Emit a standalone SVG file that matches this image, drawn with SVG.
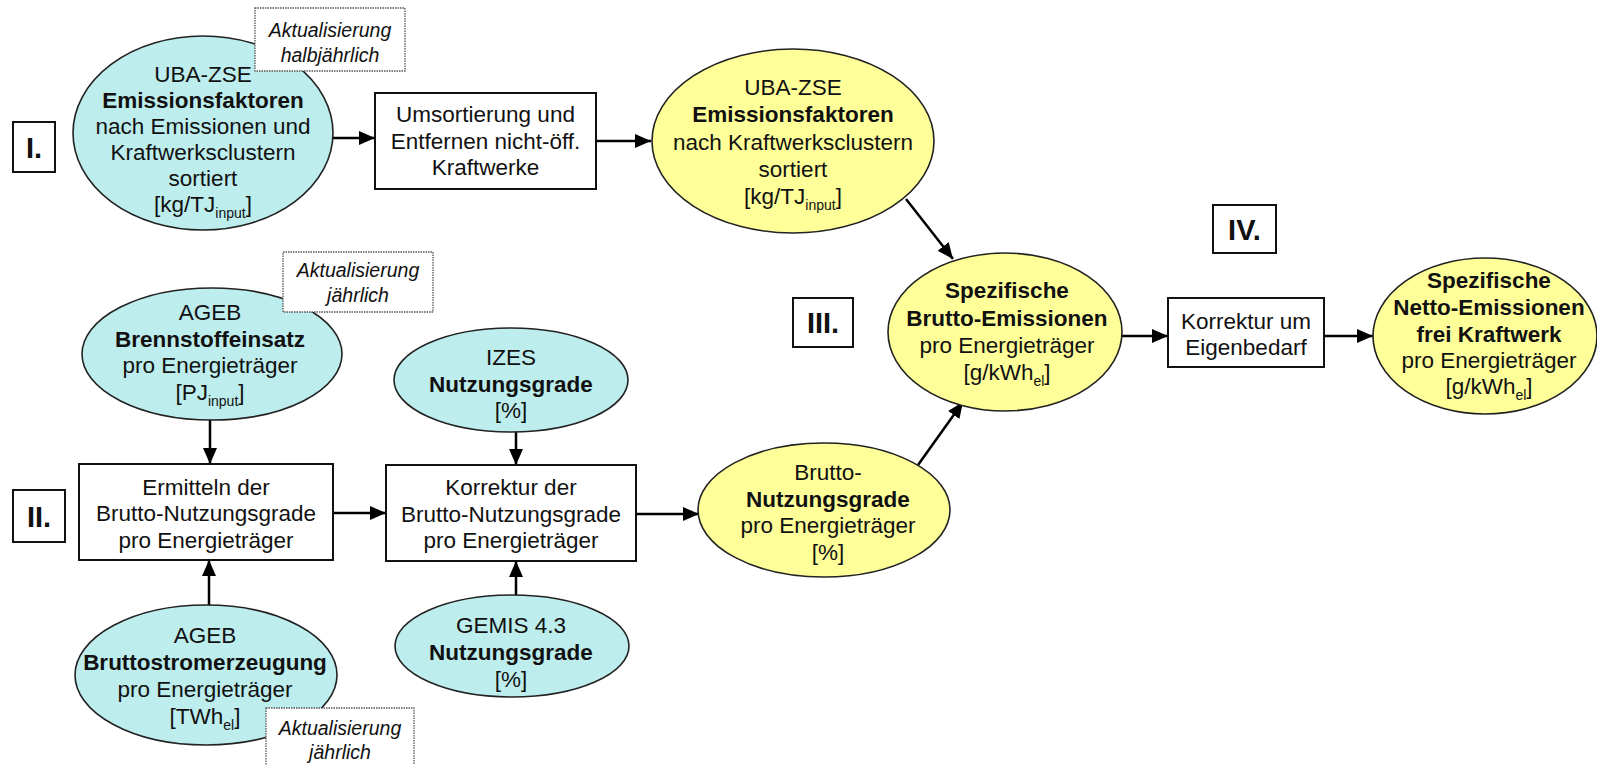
<svg xmlns="http://www.w3.org/2000/svg" width="1597" height="765" viewBox="0 0 1597 765">
<defs>
<marker id="ah" viewBox="0 0 16 14" refX="16" refY="7" markerWidth="16" markerHeight="14" markerUnits="userSpaceOnUse" orient="auto">
<path d="M0,0 L16,7 L0,14 z" fill="#000"/>
</marker>
<style>
text{font-family:"Liberation Sans",Arial,sans-serif;font-size:22.5px;fill:#111;text-anchor:middle}
.b{font-weight:bold}
.sub{font-size:14px}
.note{font-style:italic;font-size:19.5px}
.rn{font-weight:bold;font-size:29px}
.cy{fill:#bdeded;stroke:#222;stroke-width:1.6}
.ye{fill:#ffff99;stroke:#222;stroke-width:1.6}
.bx{fill:#fff;stroke:#111;stroke-width:2}
.nb{fill:#fff;stroke:#555;stroke-width:1.3;stroke-dasharray:1.5 1}
.c{stroke:#000;stroke-width:2.5;fill:none;marker-end:url(#ah)}
</style>
</defs>
<rect width="1597" height="765" fill="#fff"/>

<g id="connectors">
<line class="c" x1="333" y1="138" x2="375" y2="138"/>
<line class="c" x1="596" y1="141" x2="651" y2="141"/>
<line class="c" x1="906" y1="199" x2="953" y2="259"/>
<line class="c" x1="210" y1="420" x2="210" y2="464"/>
<line class="c" x1="209" y1="605" x2="209" y2="560"/>
<line class="c" x1="333" y1="513" x2="386" y2="513"/>
<line class="c" x1="516" y1="432" x2="516" y2="465"/>
<line class="c" x1="516" y1="595" x2="516" y2="561"/>
<line class="c" x1="636" y1="514" x2="699" y2="514"/>
<line class="c" x1="918" y1="465" x2="963" y2="402"/>
<line class="c" x1="1122" y1="336" x2="1168" y2="336"/>
<line class="c" x1="1324" y1="336" x2="1373" y2="336"/>
</g>

<g id="n-uba-zse-1">
<ellipse class="cy" cx="203" cy="133" rx="130" ry="97"/>
<text x="203" y="82">UBA-ZSE</text>
<text x="203" y="108" class="b">Emissionsfaktoren</text>
<text x="203" y="134">nach Emissionen und</text>
<text x="203" y="160">Kraftwerksclustern</text>
<text x="203" y="186">sortiert</text>
<text x="203" y="212">[kg/TJ<tspan class="sub" dy="6">input</tspan><tspan dy="-6">]</tspan></text>
</g>

<g id="note-1">
<rect class="nb" x="255" y="8" width="150" height="63"/>
<text x="330" y="37" class="note">Aktualisierung</text>
<text x="330" y="62" class="note">halbjährlich</text>
</g>

<g id="rn-1">
<rect class="bx" x="13" y="122" width="42" height="50"/>
<text x="34" y="158" class="rn">I.</text>
</g>

<g id="n-umsortierung">
<rect class="bx" x="375" y="93" width="221" height="96"/>
<text x="485.5" y="122">Umsortierung und</text>
<text x="485.5" y="149">Entfernen nicht-öff.</text>
<text x="485.5" y="175">Kraftwerke</text>
</g>

<g id="n-uba-zse-2">
<ellipse class="ye" cx="793" cy="141" rx="141" ry="92"/>
<text x="793" y="95">UBA-ZSE</text>
<text x="793" y="122" class="b">Emissionsfaktoren</text>
<text x="793" y="150">nach Kraftwerksclustern</text>
<text x="793" y="177">sortiert</text>
<text x="793" y="204">[kg/TJ<tspan class="sub" dy="6">input</tspan><tspan dy="-6">]</tspan></text>
</g>

<g id="n-ageb-brenn">
<ellipse class="cy" cx="212" cy="354" rx="130" ry="66"/>
<text x="210" y="320">AGEB</text>
<text x="210" y="347" class="b">Brennstoffeinsatz</text>
<text x="210" y="373">pro Energieträger</text>
<text x="210" y="400">[PJ<tspan class="sub" dy="6">input</tspan><tspan dy="-6">]</tspan></text>
</g>

<g id="note-2">
<rect class="nb" x="283" y="252" width="150" height="60"/>
<text x="358" y="277" class="note">Aktualisierung</text>
<text x="358" y="302" class="note">jährlich</text>
</g>

<g id="rn-2">
<rect class="bx" x="13" y="490" width="52" height="52"/>
<text x="39" y="527" class="rn">II.</text>
</g>

<g id="n-ermitteln">
<rect class="bx" x="79" y="464" width="254" height="96"/>
<text x="206" y="495">Ermitteln der</text>
<text x="206" y="521">Brutto-Nutzungsgrade</text>
<text x="206" y="548">pro Energieträger</text>
</g>

<g id="n-izes">
<ellipse class="cy" cx="511" cy="380" rx="117" ry="52"/>
<text x="511" y="365">IZES</text>
<text x="511" y="392" class="b">Nutzungsgrade</text>
<text x="511" y="418">[%]</text>
</g>

<g id="n-korrektur">
<rect class="bx" x="386" y="465" width="250" height="96"/>
<text x="511" y="495">Korrektur der</text>
<text x="511" y="522">Brutto-Nutzungsgrade</text>
<text x="511" y="548">pro Energieträger</text>
</g>

<g id="n-gemis">
<ellipse class="cy" cx="512" cy="646" rx="117" ry="51"/>
<text x="511" y="633">GEMIS 4.3</text>
<text x="511" y="660" class="b">Nutzungsgrade</text>
<text x="511" y="687">[%]</text>
</g>

<g id="n-ageb-brutto">
<ellipse class="cy" cx="206" cy="675" rx="131" ry="70"/>
<text x="205" y="643">AGEB</text>
<text x="205" y="670" class="b">Bruttostromerzeugung</text>
<text x="205" y="697">pro Energieträger</text>
<text x="205" y="724">[TWh<tspan class="sub" dy="6">el</tspan><tspan dy="-6">]</tspan></text>
</g>

<g id="note-3">
<rect class="nb" x="266" y="708" width="148" height="64"/>
<text x="340" y="735" class="note">Aktualisierung</text>
<text x="340" y="759" class="note">jährlich</text>
</g>

<g id="n-brutto-nutz">
<ellipse class="ye" cx="824" cy="510" rx="126" ry="67"/>
<text x="828" y="480">Brutto-</text>
<text x="828" y="507" class="b">Nutzungsgrade</text>
<text x="828" y="533">pro Energieträger</text>
<text x="828" y="560">[%]</text>
</g>

<g id="rn-3">
<rect class="bx" x="793" y="298" width="60" height="49"/>
<text x="823" y="333" class="rn">III.</text>
</g>

<g id="n-spez-brutto">
<ellipse class="ye" cx="1005" cy="332" rx="117" ry="79"/>
<text x="1007" y="298" class="b">Spezifische</text>
<text x="1007" y="326" class="b">Brutto-Emissionen</text>
<text x="1007" y="353">pro Energieträger</text>
<text x="1007" y="380">[g/kWh<tspan class="sub" dy="6">el</tspan><tspan dy="-6">]</tspan></text>
</g>

<g id="rn-4">
<rect class="bx" x="1213" y="205" width="63" height="48"/>
<text x="1244.5" y="240" class="rn">IV.</text>
</g>

<g id="n-korrektur-eigen">
<rect class="bx" x="1168" y="298" width="156" height="69"/>
<text x="1246" y="329">Korrektur um</text>
<text x="1246" y="355">Eigenbedarf</text>
</g>

<g id="n-spez-netto">
<ellipse class="ye" cx="1485" cy="336" rx="112" ry="78"/>
<text x="1489" y="288" class="b">Spezifische</text>
<text x="1489" y="315" class="b">Netto-Emissionen</text>
<text x="1489" y="342" class="b">frei Kraftwerk</text>
<text x="1489" y="368">pro Energieträger</text>
<text x="1489" y="394">[g/kWh<tspan class="sub" dy="6">el</tspan><tspan dy="-6">]</tspan></text>
</g>
</svg>
